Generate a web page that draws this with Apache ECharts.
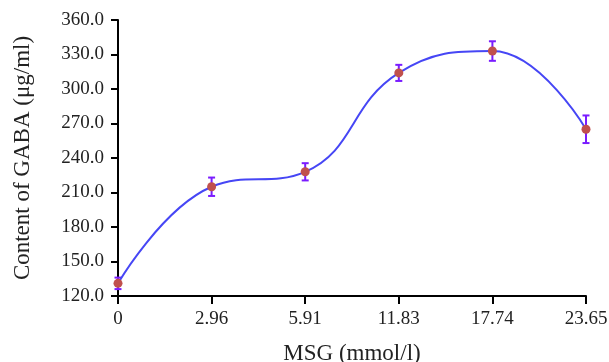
<!DOCTYPE html>
<html>
<head>
<meta charset="utf-8">
<script src="https://cdn.jsdelivr.net/npm/echarts@6/dist/echarts.min.js"></script>
<style>
  html, body { margin: 0; padding: 0; background: #fff; }
  #chart { width: 609px; height: 362px; }
</style>
</head>
<body>
<div id="chart"></div>
<script>
const msgLevels = ['0', '2.96', '5.91', '11.83', '17.74', '23.65']
const gabaMean = [131, 215, 228, 314, 333, 265]
const gabaErr = [5, 8, 7.5, 7, 8.5, 12]

const chart = echarts.init(document.getElementById('chart'))
const fontFamily = '"Liberation Serif", "Times New Roman", serif'

const errData = gabaMean.map((m, i) => [i, m - gabaErr[i], m + gabaErr[i]])

const option = {
  animation: false,
  backgroundColor: '#fff',
  grid: { left: 118, right: 23, top: 20, bottom: 66, outerBoundsMode: 'none', containLabel: false },
  xAxis: {
    type: 'category',
    data: msgLevels,
    boundaryGap: false,
    name: 'MSG (mmol/l)',
    nameLocation: 'middle',
    nameGap: 46,
    nameTextStyle: { color: '#222', fontSize: 23, fontFamily: fontFamily },
    axisLine: { lineStyle: { color: '#000', width: 2 } },
    axisTick: { alignWithLabel: true, length: 8, lineStyle: { color: '#000', width: 2 } },
    axisLabel: { color: '#222', fontSize: 19, fontFamily: fontFamily, margin: 14 },
    splitLine: { show: false }
  },
  yAxis: {
    type: 'value',
    min: 120,
    max: 360,
    interval: 30,
    name: 'Content of GABA (μg/ml)',
    nameLocation: 'middle',
    nameGap: 84,
    nameTextStyle: { color: '#222', fontSize: 23, fontFamily: fontFamily },
    axisLine: { show: true, lineStyle: { color: '#000', width: 2 } },
    axisTick: { show: true, length: 7, lineStyle: { color: '#000', width: 2 } },
    axisLabel: {
      color: '#222',
      fontSize: 19,
      fontFamily: fontFamily,
      margin: 14,
      formatter: (v) => v.toFixed(1)
    },
    splitLine: { show: false }
  },
  series: [
    {
      name: 'error',
      type: 'custom',
      z: 2,
      data: errData,
      renderItem: (params, api) => {
        const x = api.value(0)
        const lo = api.coord([x, api.value(1)])
        const hi = api.coord([x, api.value(2)])
        const half = 3.5
        const style = { stroke: '#7a1cff', lineWidth: 2 }
        return {
          type: 'group',
          children: [
            { type: 'line', shape: { x1: lo[0], y1: lo[1], x2: hi[0], y2: hi[1] }, style: style },
            { type: 'line', shape: { x1: lo[0] - half, y1: lo[1], x2: lo[0] + half, y2: lo[1] }, style: style },
            { type: 'line', shape: { x1: hi[0] - half, y1: hi[1], x2: hi[0] + half, y2: hi[1] }, style: style }
          ]
        }
      }
    },
    {
      name: 'GABA',
      type: 'line',
      z: 3,
      data: gabaMean,
      smooth: 0.45,
      symbol: 'circle',
      symbolSize: 9,
      itemStyle: { color: '#c0504d' },
      lineStyle: { color: '#4646f5', width: 2 }
    }
  ]
}

chart.setOption(option)
</script>
</body>
</html>
